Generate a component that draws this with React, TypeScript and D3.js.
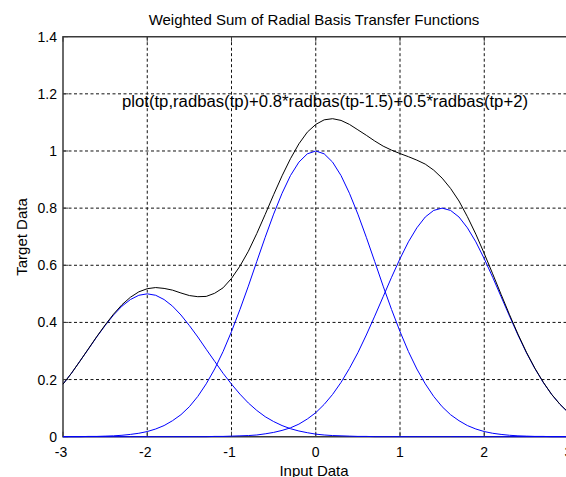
import React from "react";
import * as d3 from "d3";

const tp: number[] = [
  -3.0, -2.9, -2.8, -2.7, -2.6, -2.5, -2.4, -2.3, -2.2, -2.1,
  -2.0, -1.9, -1.8, -1.7, -1.6, -1.5, -1.4, -1.3, -1.2, -1.1,
  -1.0, -0.9, -0.8, -0.7, -0.6, -0.5, -0.4, -0.3, -0.2, -0.1,
  0.0, 0.1, 0.2, 0.3, 0.4, 0.5, 0.6, 0.7, 0.8, 0.9,
  1.0, 1.1, 1.2, 1.3, 1.4, 1.5, 1.6, 1.7, 1.8, 1.9,
  2.0, 2.1, 2.2, 2.3, 2.4, 2.5, 2.6, 2.7, 2.8, 2.9, 3.0,
];

// radbas(tp)
const a1: number[] = [
  0.000, 0.000, 0.000, 0.001, 0.001, 0.002, 0.003, 0.005, 0.008, 0.012,
  0.018, 0.027, 0.039, 0.056, 0.077, 0.105, 0.141, 0.185, 0.237, 0.298,
  0.368, 0.445, 0.527, 0.613, 0.698, 0.779, 0.852, 0.914, 0.961, 0.990,
  1.000, 0.990, 0.961, 0.914, 0.852, 0.779, 0.698, 0.613, 0.527, 0.445,
  0.368, 0.298, 0.237, 0.185, 0.141, 0.105, 0.077, 0.056, 0.039, 0.027,
  0.018, 0.012, 0.008, 0.005, 0.003, 0.002, 0.001, 0.001, 0.000, 0.000, 0.000,
];

// 0.8*radbas(tp-1.5)
const a2: number[] = [
  0.000, 0.000, 0.000, 0.000, 0.000, 0.000, 0.000, 0.000, 0.000, 0.000,
  0.000, 0.000, 0.000, 0.000, 0.000, 0.000, 0.000, 0.000, 0.001, 0.001,
  0.002, 0.003, 0.004, 0.006, 0.010, 0.015, 0.022, 0.031, 0.044, 0.062,
  0.084, 0.113, 0.148, 0.190, 0.239, 0.294, 0.356, 0.422, 0.490, 0.558,
  0.623, 0.682, 0.731, 0.769, 0.792, 0.800, 0.792, 0.769, 0.731, 0.682,
  0.623, 0.558, 0.490, 0.422, 0.356, 0.294, 0.239, 0.190, 0.148, 0.113, 0.084,
];

// 0.5*radbas(tp+2)
const a3: number[] = [
  0.184, 0.222, 0.264, 0.306, 0.349, 0.389, 0.426, 0.457, 0.480, 0.495,
  0.500, 0.495, 0.480, 0.457, 0.426, 0.389, 0.349, 0.306, 0.264, 0.222,
  0.184, 0.149, 0.118, 0.092, 0.070, 0.053, 0.039, 0.028, 0.020, 0.014,
  0.009, 0.006, 0.004, 0.003, 0.002, 0.001, 0.001, 0.000, 0.000, 0.000,
  0.000, 0.000, 0.000, 0.000, 0.000, 0.000, 0.000, 0.000, 0.000, 0.000,
  0.000, 0.000, 0.000, 0.000, 0.000, 0.000, 0.000, 0.000, 0.000, 0.000, 0.000,
];

// weighted sum
const a4: number[] = [
  0.184, 0.222, 0.264, 0.307, 0.350, 0.391, 0.429, 0.462, 0.488, 0.507,
  0.518, 0.522, 0.519, 0.513, 0.503, 0.494, 0.490, 0.491, 0.502, 0.521,
  0.554, 0.597, 0.649, 0.711, 0.778, 0.847, 0.913, 0.973, 1.025, 1.066,
  1.093, 1.109, 1.113, 1.107, 1.093, 1.074, 1.055, 1.035, 1.017, 1.003,
  0.991, 0.980, 0.968, 0.954, 0.933, 0.905, 0.869, 0.825, 0.770, 0.709,
  0.641, 0.570, 0.498, 0.427, 0.359, 0.296, 0.240, 0.191, 0.148, 0.113, 0.084,
];

const xTicks: number[] = [-3, -2, -1, 0, 1, 2, 3];
const yTicks: number[] = [0, 0.2, 0.4, 0.6, 0.8, 1, 1.2, 1.4];
const yTickLabels: string[] = ["0", "0.2", "0.4", "0.6", "0.8", "1", "1.2", "1.4"];

const titleText = "Weighted Sum of Radial Basis Transfer Functions";
const annotation = "plot(tp,radbas(tp)+0.8*radbas(tp-1.5)+0.5*radbas(tp+2)";
const xLabel = "Input Data";
const yLabel = "Target Data";

export default function App() {
  const W = 566;
  const H = 477;
  const left = 63;
  const right = 568.5;
  const top = 36.7;
  const bottom = 436.7;
  const x = d3.scaleLinear().domain([-3, 3]).range([left, right]);
  const y = d3.scaleLinear().domain([0, 1.4]).range([bottom, top]);
  const line = (vals: number[]) =>
    d3
      .line<number>()
      .x((_, i) => x(tp[i]))
      .y((d) => y(d))(vals) as string;

  const font = "'Liberation Sans', Arial, sans-serif";
  const frame = "#3a3a3a";

  return (
    <svg
      width={W}
      height={H}
      style={{ position: "absolute", left: 0, top: 0, background: "#fff" }}
      fontFamily={font}
    >
      <rect x={0} y={0} width={W} height={H} fill="#fff" />
      {/* grid */}
      {xTicks
        .filter((t) => t > -3 && t < 3)
        .map((t) => (
          <line
            key={"gx" + t}
            x1={x(t)}
            x2={x(t)}
            y1={top}
            y2={bottom}
            stroke="#111"
            strokeWidth={1}
            strokeDasharray="3,2.5"
          />
        ))}
      {yTicks
        .filter((t) => t > 0 && t < 1.4)
        .map((t) => (
          <line
            key={"gy" + t}
            x1={left}
            x2={right}
            y1={y(t)}
            y2={y(t)}
            stroke="#111"
            strokeWidth={1}
            strokeDasharray="3,2.5"
          />
        ))}
      {/* ticks */}
      {xTicks.map((t) => (
        <g key={"tx" + t}>
          <line x1={x(t)} x2={x(t)} y1={bottom} y2={bottom - 5} stroke={frame} />
          <line x1={x(t)} x2={x(t)} y1={top} y2={top + 5} stroke={frame} />
        </g>
      ))}
      {yTicks.map((t) => (
        <line key={"ty" + t} x1={left} x2={left + 5} y1={y(t)} y2={y(t)} stroke={frame} />
      ))}
      {/* frame */}
      <path
        d={`M${left},${bottom}V${top}H${right}V${bottom}Z`}
        fill="none"
        stroke={frame}
        strokeWidth={1.5}
      />
      {/* curves */}
      <path d={line(a1)} fill="none" stroke="#0000ff" strokeWidth={1} />
      <path d={line(a2)} fill="none" stroke="#0000ff" strokeWidth={1} />
      <path d={line(a3)} fill="none" stroke="#0000ff" strokeWidth={1} />
      <path d={line(a4)} fill="none" stroke="#000" strokeWidth={1} />
      {/* tick labels */}
      {xTicks.map((t) => (
        <text key={"lx" + t} x={x(t) - (t < 0 ? 2 : 0)} y={457} fontSize={14} textAnchor="middle" fill="#000">
          {String(t)}
        </text>
      ))}
      {yTicks.map((t, i) => (
        <text key={"ly" + t} x={57} y={y(t) + 5} fontSize={14} textAnchor="end" fill="#000">
          {yTickLabels[i]}
        </text>
      ))}
      {/* title & labels */}
      <text x={314} y={25} fontSize={15} textAnchor="middle" fill="#000">
        {titleText}
      </text>
      <text x={122} y={107} fontSize={16} textLength={406} lengthAdjust="spacingAndGlyphs" fill="#000">
        {annotation}
      </text>
      <text x={314} y={476} fontSize={15} textAnchor="middle" fill="#000">
        {xLabel}
      </text>
      <text
        transform={`translate(27,237) rotate(-90)`}
        fontSize={15}
        textAnchor="middle"
        fill="#000"
      >
        {yLabel}
      </text>
    </svg>
  );
}
